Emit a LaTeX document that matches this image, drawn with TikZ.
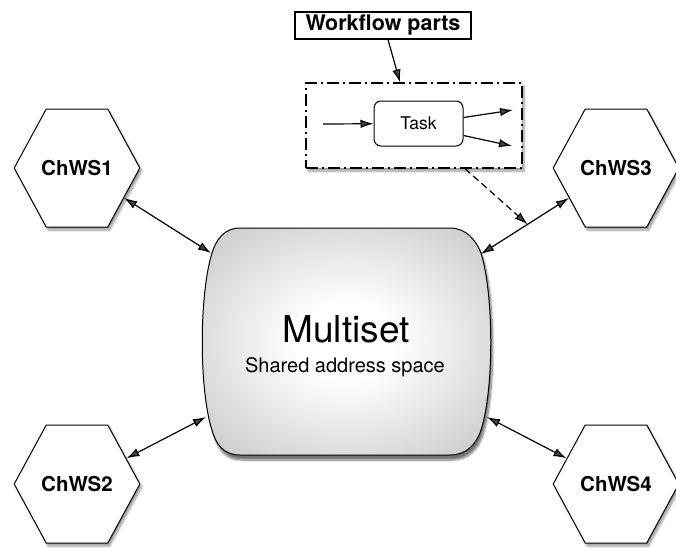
\documentclass[tikz,border=0pt]{standalone}
\usepackage{fontspec}
\setmainfont{TeX Gyre Heros}
\usetikzlibrary{shapes.symbols,shadows.blur,arrows.meta}
\definecolor{msedge}{HTML}{A8A8A8}
\pgfdeclareradialshading{msglow}{\pgfpoint{0bp}{0bp}}{color(0bp)=(white); color(8bp)=(white); color(50bp)=(msedge)}
\tikzset{
	chws/.style    = {draw, fill=white, signal, signal to=east and west, signal pointer angle=123, minimum height=118pt, inner xsep=-5pt, inner ysep=0pt, line width=1pt, font=\fontsize{20.5}{24}\selectfont\bfseries, blur shadow={shadow xshift=2pt, shadow yshift=-3pt, shadow blur steps=8}},
	barrel/.style  = {draw, line width=1pt, shading=msglow, blur shadow={shadow xshift=2pt, shadow yshift=-5pt, shadow blur steps=8, shadow opacity=55}},
	parts/.style   = {draw, fill=white, rectangle, line width=1.3pt, dash pattern=on 12pt off 4pt on 2pt off 4pt, minimum width=216pt, minimum height=85pt, blur shadow={shadow xshift=2pt, shadow yshift=-3pt, shadow blur steps=8}},
	tag/.style     = {draw, fill=white, rectangle, line width=1.2pt, minimum width=176pt, minimum height=27pt, inner sep=0pt, font=\fontsize{21.5}{24}\selectfont\bfseries},
	taskbox/.style = {draw, fill=white, rectangle, rounded corners=7pt, line width=1pt, minimum width=89pt, minimum height=45pt, font=\fontsize{17.5}{20}\selectfont},
	link/.style    = {line width=1.2pt},
	hidden/.style  = {coordinate},
}

\begin{document}
\begin{tikzpicture}[x=1pt, y=-1pt, >={Latex[length=13pt,width=8.5pt]}]
	\useasboundingbox (0,0) rectangle (676,547);

	% Draw the shared multiset
	\path[barrel] (240,228) -- (450,228) .. controls (466,228) and (476,240) .. (481,253)
		.. controls (494,295) and (494,390) .. (481,430)
		.. controls (476,445) and (466,455) .. (450,455) -- (240,455)
		.. controls (224,455) and (216,445) .. (212,430)
		.. controls (199,390) and (199,295) .. (212,253)
		.. controls (216,240) and (224,228) .. (240,228) -- cycle;
	\node[anchor=base, font=\fontsize{37}{40}\selectfont] (multiset) at (346,342) {Multiset};
	\node[anchor=base, font=\fontsize{20}{24}\selectfont] (mssub) at (345,372) {Shared address space};

	% Draw the chemical web services and the workflow parts
	\draw
	node[chws   ] (chws1) at (77,168)  {ChWS1}
	node[chws   ] (chws2) at (77,484)  {ChWS2}
	node[chws   ] (chws3) at (616,168) {ChWS3}
	node[chws   ] (chws4) at (616,484) {ChWS4}
	node[parts  ] (parts) at (414,125.5) {}
	node[tag    ] (wfparts) at (383,25.5) {Workflow parts}
	node[taskbox] (task) at (418.5,123.5) {Task}
	node[hidden ] (taskin) at (323,124) {}
	node[hidden ] (taskout1) at (513,110) {}
	node[hidden ] (taskout2) at (512,146) {}
	node[hidden ] (ms-nw) at (211,253) {}
	node[hidden ] (ms-ne) at (481,254) {}
	node[hidden ] (ms-sw) at (206,417) {}
	node[hidden ] (ms-se) at (487,417) {};

	% Connect everything together
	\draw[link, <->] (chws1) -- (ms-nw);
	\draw[link, <->] (chws2) -- (ms-sw);
	\draw[link, <->] (chws3) -- (ms-ne) coordinate[pos=0.47] (onlink);
	\draw[link, <->] (chws4) -- (ms-se);
	\draw[link, ->] (taskin) -- (task);
	\draw[link, ->] ([yshift=6pt]task.east) -- (taskout1);
	\draw[link, ->] ([yshift=-12pt]task.east) -- (taskout2);
	\draw[link, ->] ([xshift=5pt]wfparts.south) -- ([xshift=-14pt]parts.north);
	\draw[link, ->, dash pattern=on 7pt off 4pt] ([xshift=51pt]parts.south) -- (onlink);
\end{tikzpicture}
\end{document}
